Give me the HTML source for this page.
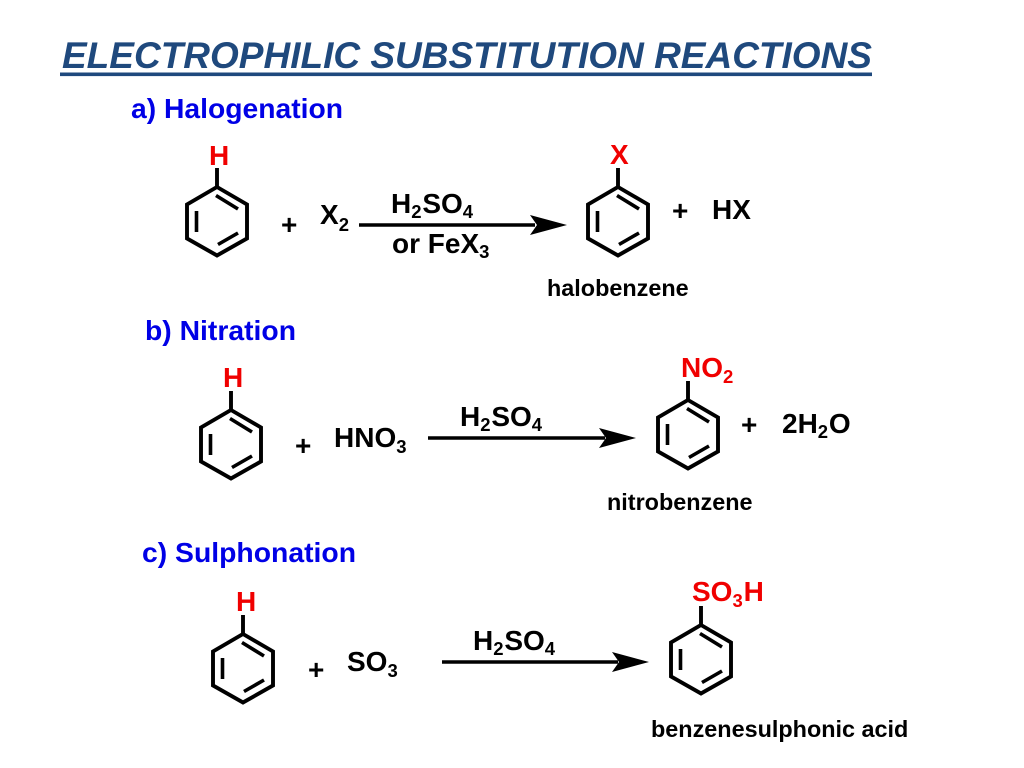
<!DOCTYPE html>
<html><head><meta charset="utf-8"><style>
html,body{margin:0;padding:0;background:#fff;width:1024px;height:768px;overflow:hidden}
svg{display:block}
text{font-family:"Liberation Sans",Arial,sans-serif;font-weight:bold;fill:#000;font-size:28px}
.b{fill:#0000e6;font-size:28px}.r{fill:#f00000}.s{font-size:23.4px}.sub{font-size:18.5px;letter-spacing:.8px}
</style></head><body>
<svg width="1024" height="768" viewBox="0 0 1024 768" xmlns="http://www.w3.org/2000/svg">
<defs>
<g id="ring" fill="none" stroke="#000" stroke-width="3.9" stroke-linejoin="miter">
<path d="M0 0L30 17.5V51.5L0 68.5L-30 51.5V17.5Z"/>
<path d="M-1 8.5L21 22M-20.5 24V45M1 57.5L21 46" stroke-width="3.6"/>
<path d="M0 0V-19"/>
</g>
</defs>
<text x="62" y="68" style="font-size:37px;font-style:italic;fill:#1f497d" textLength="810" lengthAdjust="spacingAndGlyphs">ELECTROPHILIC SUBSTITUTION REACTIONS</text>
<rect x="60" y="72.5" width="812" height="3.6" fill="#1f497d"/>
<text class="b" x="131" y="118" textLength="212" lengthAdjust="spacingAndGlyphs">a) Halogenation</text>
<text class="b" x="145" y="340" textLength="151" lengthAdjust="spacingAndGlyphs">b) Nitration</text>
<text class="b" x="142" y="562" textLength="214" lengthAdjust="spacingAndGlyphs">c) Sulphonation</text>

<use href="#ring" x="217" y="187"/>
<text class="r" x="209" y="165">H</text>
<text x="281" y="234">+</text>
<text x="320" y="224">X<tspan class="sub" dy="7">2</tspan></text>
<path d="M359 225H535" stroke="#000" stroke-width="3.4"/>
<path d="M530 215L567 225L530 235L537 225Z" fill="#000"/>
<text x="391" y="213">H<tspan class="sub" dy="5">2</tspan><tspan dy="-5">SO</tspan><tspan class="sub" dy="5">4</tspan></text>
<text x="392" y="253">or FeX<tspan class="sub" dy="5">3</tspan></text>
<use href="#ring" x="618" y="187"/>
<text class="r" x="610" y="164">X</text>
<text x="672" y="220">+</text>
<text x="712" y="219">HX</text>
<text class="s" x="547" y="296">halobenzene</text>

<use href="#ring" x="231" y="410"/>
<text class="r" x="223" y="387">H</text>
<text x="295" y="455">+</text>
<text x="334" y="447">HNO<tspan class="sub" dy="6">3</tspan></text>
<path d="M428 438H605" stroke="#000" stroke-width="3.4"/>
<path d="M599 428L636 438L599 448L606 438Z" fill="#000"/>
<text x="460" y="426">H<tspan class="sub" dy="5">2</tspan><tspan dy="-5">SO</tspan><tspan class="sub" dy="5">4</tspan></text>
<use href="#ring" x="688" y="400"/>
<text class="r" x="681" y="377">NO<tspan class="sub" dy="6">2</tspan></text>
<text x="741" y="434">+</text>
<text x="782" y="433">2H<tspan class="sub" dy="5">2</tspan><tspan dy="-5">O</tspan></text>
<text class="s" x="607" y="510">nitrobenzene</text>

<use href="#ring" x="243" y="634"/>
<text class="r" x="236" y="611">H</text>
<text x="308" y="679">+</text>
<text x="347" y="671">SO<tspan class="sub" dy="6">3</tspan></text>
<path d="M442 662H618" stroke="#000" stroke-width="3.4"/>
<path d="M612 652L649 662L612 672L619 662Z" fill="#000"/>
<text x="473" y="650">H<tspan class="sub" dy="5">2</tspan><tspan dy="-5">SO</tspan><tspan class="sub" dy="5">4</tspan></text>
<use href="#ring" x="701" y="625"/>
<text class="r" x="692" y="601">SO<tspan class="sub" dy="6">3</tspan><tspan dy="-6">H</tspan></text>
<text class="s" x="651" y="737">benzenesulphonic acid</text>
</svg>
</body></html>
